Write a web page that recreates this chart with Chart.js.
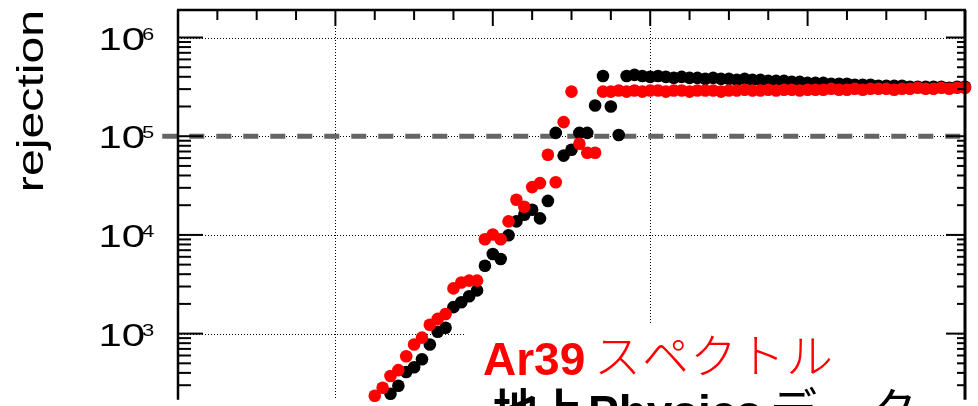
<!DOCTYPE html>
<html><head><meta charset="utf-8">
<script src="https://cdn.jsdelivr.net/npm/chart.js@4.4.1/dist/chart.umd.min.js"></script>
<style>html,body{margin:0;padding:0;background:#fff;overflow:hidden}canvas{display:block}</style>
</head><body>
<canvas id="c" width="978" height="406"></canvas>
<script>
// ---- data ----
const binCenters = [
  62.5, 65, 67.5, 70, 72.5, 75, 77.5, 80, 82.5, 85,
  87.5, 90, 92.5, 95, 97.5, 100, 102.5, 105, 107.5, 110,
  112.5, 115, 117.5, 120, 122.5, 125, 127.5, 130, 132.5, 135,
  137.5, 140, 142.5, 145, 147.5, 150, 152.5, 155, 157.5, 160,
  162.5, 165, 167.5, 170, 172.5, 175, 177.5, 180, 182.5, 185,
  187.5, 190, 192.5, 195, 197.5, 200, 202.5, 205, 207.5, 210,
  212.5, 215, 217.5, 220, 222.5, 225, 227.5, 230, 232.5, 235,
  237.5, 240, 242.5, 245, 247.5, 250, 252.5, 255
];
// Ar39 spectrum (red)
const redRejection = [
  235, 283, 372, 427, 589, 775, 910, 1230, 1410, 1580,
  2870, 3290, 3440, 3440, 9040, 10100, 9040, 13700, 22700, 19300,
  30500, 33500, 65000, 34200, 139000, 283000, 83800, 68100, 68100, 283000,
  283000, 290000, 283000, 290000, 283000, 290000, 290000, 283000, 290000, 290000,
  283000, 290000, 290000, 290000, 283000, 290000, 290000, 296000, 290000, 290000,
  296000, 290000, 296000, 296000, 290000, 296000, 296000, 296000, 303000, 296000,
  296000, 303000, 296000, 303000, 303000, 303000, 296000, 303000, 303000, 310000,
  303000, 303000, 310000, 303000, 310000, 310000, 303000, 310000
];
// surface physics data (black)
const blackRejection = [
  null, null, 246, 296, 408, 457, 549, 775, 1045, 1146,
  1854, 2080, 2390, 2740, 4870, 6410, 5710, 9910, 13700, 16000,
  18000, 14700, 22100, 108000, 63600, 73000, 108000, 108000, 205000, 408000,
  200000, 103000, 408000, 418000, 408000, 399000, 408000, 399000, 390000, 399000,
  390000, 390000, 381000, 390000, 381000, 381000, 372000, 381000, 372000, 372000,
  364000, 364000, 364000, 355000, 355000, 347000, 347000, 347000, 340000, 340000,
  340000, 332000, 332000, 332000, 324000, 324000, 324000, 324000, 317000, 317000,
  317000, 317000, 317000, 310000, 317000, 317000, 310000, null
];
const yDecades = [3, 4, 5, 6];
const xGridValues = [50, 150];
const threshold = 1e5;
const yTitle = 'rejection';
const line1 = ['Ar39', 'スペクトル'];
const line2 = ['地上', 'Physics', 'データ'];

function pts(vals) {
  const out = [];
  binCenters.forEach((x, i) => { if (vals[i] != null) out.push({x: x, y: vals[i]}); });
  return out;
}

function seg(ctx, x1, y1, x2, y2) { ctx.beginPath(); ctx.moveTo(x1, y1); ctx.lineTo(x2, y2); ctx.stroke(); }

const decor = {
  id: 'decor',
  beforeDatasetsDraw(chart) {
    const {ctx, chartArea: a, scales: {x, y}} = chart;
    ctx.save();
    // dotted grid
    ctx.strokeStyle = '#000'; ctx.lineWidth = 1; ctx.setLineDash([1, 2]);
    yDecades.forEach(e => {
      const py = Math.round(y.getPixelForValue(Math.pow(10, e))) + 0.5;
      seg(ctx, a.left, py, a.right, py);
    });
    xGridValues.forEach(v => {
      const px = Math.round(x.getPixelForValue(v)) + 0.5;
      seg(ctx, px, a.top, px, a.bottom);
    });
    ctx.setLineDash([]);
    // white text box
    ctx.fillStyle = '#fff';
    ctx.fillRect(465, 323, 493, 90);
    // threshold dashed line
    ctx.strokeStyle = '#656565'; ctx.lineWidth = 5; ctx.setLineDash([15, 12]);
    const ty = y.getPixelForValue(threshold);
    seg(ctx, x.getPixelForValue(-5), ty, x.getPixelForValue(248.5), ty);
    ctx.restore();
  },
  afterDatasetsDraw(chart) {
    const {ctx, chartArea: a, scales: {x, y}} = chart;
    ctx.save();
    ctx.strokeStyle = '#000'; ctx.setLineDash([]);
    // frame
    ctx.lineWidth = 2.5;
    seg(ctx, a.left - 1, a.top, a.right + 1, a.top);
    seg(ctx, a.left, a.top, a.left, a.bottom);
    ctx.lineWidth = 3;
    seg(ctx, a.right, a.top, a.right, a.bottom);
    // top ticks
    ctx.lineWidth = 2;
    for (let v = 12.5; v < 250; v += 12.5) {
      const px = x.getPixelForValue(v);
      const len = (v % 50 === 0) ? 16 : 10;
      seg(ctx, px, a.top, px, a.top + len);
    }
    // y ticks left and right
    for (let e = 2; e <= 6; e++) {
      for (let k = 1; k <= 9; k++) {
        const v = k * Math.pow(10, e);
        if (v < y.min || v > y.max) continue;
        const py = y.getPixelForValue(v);
        seg(ctx, a.left, py, a.left + (k === 1 ? 25 : 13), py);
        seg(ctx, a.right, py, a.right - (k === 1 ? 19 : 8), py);
      }
    }
    // y labels
    ctx.fillStyle = '#000'; ctx.textBaseline = 'alphabetic'; ctx.textAlign = 'left';
    yDecades.forEach(e => {
      const py = y.getPixelForValue(Math.pow(10, e));
      ctx.save(); ctx.translate(98.5, py + 12); ctx.scale(1.35, 1);
      ctx.font = '31px "Liberation Sans", Arial, sans-serif'; ctx.fillText('10', 0, 0); ctx.restore();
      ctx.save(); ctx.translate(142, py + 2); ctx.scale(1.3, 1);
      ctx.font = '17px "Liberation Sans", Arial, sans-serif'; ctx.fillText(String(e), 0, 0); ctx.restore();
    });
    // y title
    ctx.save(); ctx.translate(43, 101); ctx.rotate(-Math.PI / 2); ctx.scale(1.34, 1);
    ctx.textAlign = 'center'; ctx.font = '36px "Liberation Sans", Arial, sans-serif';
    ctx.fillText(yTitle, 0, 0); ctx.restore();
    // annotation text
    ctx.textAlign = 'left';
    ctx.fillStyle = '#ff0000';
    ctx.font = 'bold 46px "Liberation Sans", Arial, sans-serif';
    ctx.fillText(line1[0], 483, 375);
    ctx.font = '300 47px "Noto Sans CJK JP", sans-serif';
    [...line1[1]].forEach((ch, i) => ctx.fillText(ch, 594 + i * 48, 373));
    ctx.fillStyle = '#000';
    ctx.font = 'bold 45px "Noto Sans CJK JP", sans-serif';
    ctx.fillText(line2[0], 493, 427);
    ctx.font = 'bold 46px "Liberation Sans", Arial, sans-serif';
    ctx.fillText(line2[1], 588, 428);
    ctx.font = '47px "Noto Sans CJK JP", sans-serif';
    [...line2[2]].forEach((ch, i) => ctx.fillText(ch, 770 + i * 50, 427));
    ctx.restore();
  }
};

new Chart(document.getElementById('c'), {
  type: 'scatter',
  data: {
    datasets: [
      {label: 'Ar39', data: pts(redRejection), backgroundColor: '#ff0000', borderWidth: 0,
       pointRadius: 6.3, pointHoverRadius: 6.3, clip: false},
      {label: 'Physics', data: pts(blackRejection), backgroundColor: '#000000', borderWidth: 0,
       pointRadius: 6.3, pointHoverRadius: 6.3, clip: false}
    ]
  },
  options: {
    responsive: false, animation: false, events: [],
    layout: {padding: {left: 178, right: 13, top: 10, bottom: 0}},
    plugins: {legend: {display: false}, tooltip: {enabled: false}},
    scales: {
      x: {type: 'linear', min: 0, max: 250, display: false},
      y: {type: 'logarithmic', min: 214, max: 1.9e6, display: false}
    }
  },
  plugins: [decor]
});
</script>
</body></html>
